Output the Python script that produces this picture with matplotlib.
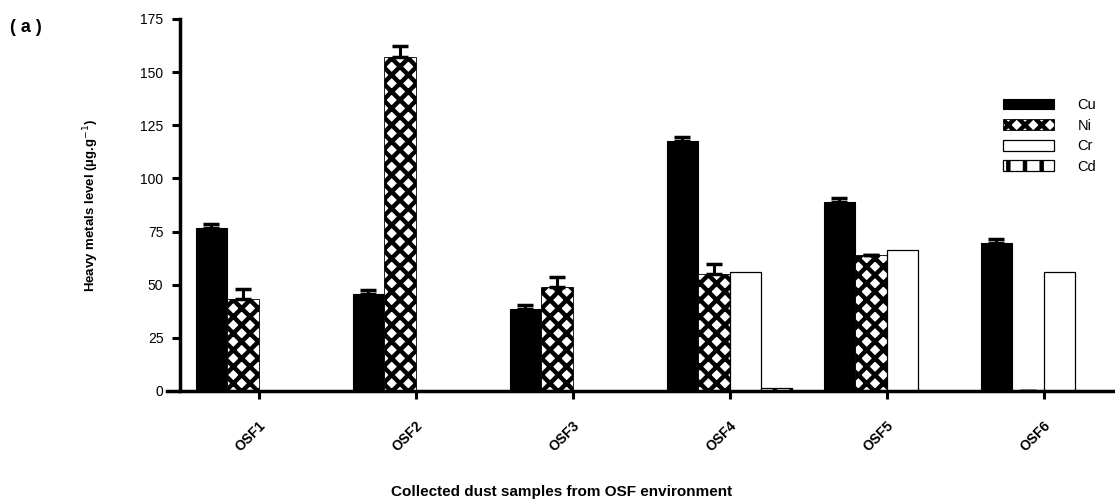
import matplotlib
matplotlib.use('Agg')
import matplotlib.pyplot as plt
import numpy as np

plt.rcParams['font.family'] = ['Liberation Sans', 'DejaVu Sans']
plt.rcParams['hatch.linewidth'] = 3.2

samples = ['OSF1', 'OSF2', 'OSF3', 'OSF4', 'OSF5', 'OSF6']
metals = ['Cu', 'Ni', 'Cr', 'Cd']

cu = [76.5, 45.6, 38.4, 117.6, 88.9, 69.5]
cu_err = [2.2, 1.8, 2.2, 2.0, 1.9, 2.0]
ni = [43.3, 157.2, 49.1, 55.2, 64.1, 0.0]
ni_err = [4.5, 5.0, 4.7, 4.5, 0.0, 0.0]
cr = [0.0, 0.0, 0.0, 56.0, 66.5, 56.0]
cd = [0.0, 0.0, 0.0, 1.2, 0.0, 0.0]

fig = plt.figure(figsize=(11.15, 5.03), dpi=100)
ax = fig.add_axes([0.1498, 0.2227, 0.8565, 0.7396])

x = np.arange(len(samples))
w = 0.2

ax.bar(x - 1.5 * w, cu, w, color='black', edgecolor='black', linewidth=0.8,
       label=metals[0])
ax.errorbar(x - 1.5 * w, cu, yerr=[np.zeros(6), cu_err], fmt='none',
            ecolor='black', elinewidth=2.2, capsize=5.5, capthick=2.5)
ax.bar(x - 0.5 * w, ni, w, color='white', edgecolor='black', hatch='xx',
       linewidth=0.6, label=metals[1])
ax.errorbar(x - 0.5 * w, ni, yerr=[np.zeros(6), ni_err], fmt='none',
            ecolor='black', elinewidth=2.2, capsize=5.5, capthick=2.5)
ax.bar(x + 0.5 * w, cr, w, color='white', edgecolor='black', linewidth=0.9,
       label=metals[2])
ax.bar(x + 1.5 * w, cd, w, color='white', edgecolor='black', hatch='|',
       linewidth=0.9, label=metals[3])

ax.set_xlim(-0.583, 5.5)
ax.set_ylim(0, 175)
ax.set_yticks(np.arange(0, 176, 25))
ax.set_xticks(x)
ax.set_xticklabels(samples, rotation=45, ha='right', rotation_mode='anchor',
                   fontsize=10, fontweight='bold')
for t in ax.get_yticklabels():
    t.set_fontweight('bold')
    t.set_fontsize(8.5)

ax.spines['top'].set_visible(False)
ax.spines['right'].set_visible(False)
ax.spines['left'].set_position(('data', -0.5))
ax.spines['left'].set_linewidth(2.5)
ax.spines['bottom'].set_linewidth(2.5)
ax.tick_params(axis='y', length=6, width=2.2, pad=6)
ax.tick_params(axis='x', length=6, width=2.2, pad=14)

ax.set_ylabel('Heavy metals level (µg.g$^{-1}$)', fontsize=9.5, fontweight='bold',
              labelpad=28)
fig.text(562 / 1115, 1 - 492 / 503, 'Collected dust samples from OSF environment',
         ha='center', va='center', fontsize=11, fontweight='bold')
fig.text(10 / 1115, 1 - 28 / 503, '( a )', ha='left', va='center',
         fontsize=13, fontweight='bold')

ax.legend(loc='upper left', bbox_to_anchor=(990 / 1115, 1 - 85 / 503),
          bbox_transform=fig.transFigure, frameon=False, fontsize=10.5,
          handlelength=3.5, handleheight=0.75, handletextpad=1.6,
          labelspacing=0.45)

plt.savefig('out.png', dpi=100)
